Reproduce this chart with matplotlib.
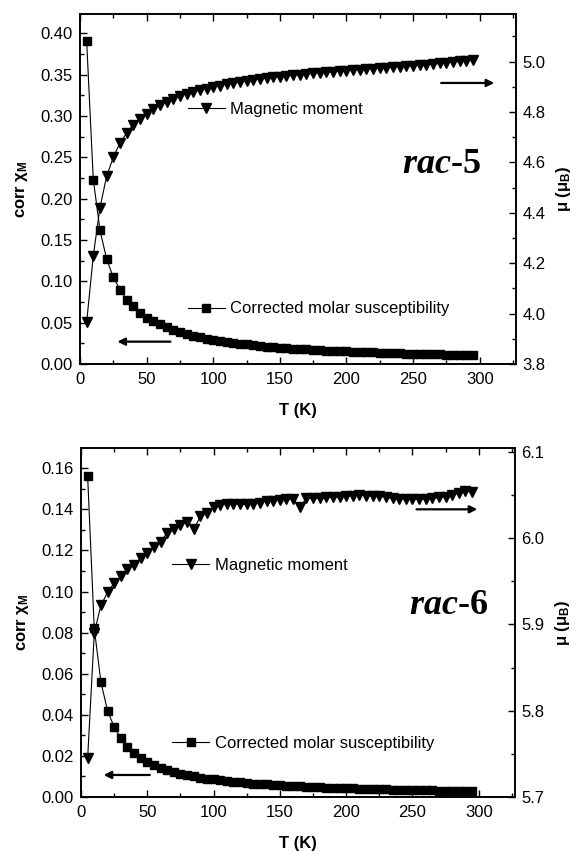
import matplotlib
matplotlib.use('Agg')
import matplotlib.pyplot as plt
from matplotlib.lines import Line2D
from matplotlib.ticker import MultipleLocator, FormatStrFormatter

plt.rcParams['font.family'] = ['Liberation Sans', 'DejaVu Sans']
plt.rcParams['mathtext.fontset'] = 'custom'
plt.rcParams['mathtext.rm'] = 'Liberation Sans'
plt.rcParams['mathtext.bf'] = 'Liberation Sans:bold'
plt.rcParams['mathtext.it'] = 'Liberation Serif:italic:bold'

# temperaturas (K), paso de 5 K
temps = [5, 10, 15, 20, 25, 30, 35, 40, 45, 50, 55, 60, 65, 70, 75, 80, 85, 90, 95, 100,
         105, 110, 115, 120, 125, 130, 135, 140, 145, 150, 155, 160, 165, 170, 175, 180,
         185, 190, 195, 200, 205, 210, 215, 220, 225, 230, 235, 240, 245, 250, 255, 260,
         265, 270, 275, 280, 285, 290, 295]

# rac-5
chi_rac5 = [0.391, 0.223, 0.162, 0.127, 0.105, 0.090, 0.078, 0.070, 0.062, 0.056,
            0.052, 0.048, 0.0445, 0.0415, 0.0388, 0.0364, 0.0343, 0.0325, 0.0308, 0.0293,
            0.0280, 0.0267, 0.0256, 0.0245, 0.0236, 0.0227, 0.0219, 0.0211, 0.0204, 0.0198,
            0.0192, 0.0186, 0.0181, 0.0176, 0.0171, 0.0167, 0.0163, 0.0159, 0.0155, 0.0151,
            0.0148, 0.0145, 0.0142, 0.0139, 0.0136, 0.0133, 0.0131, 0.0128, 0.0126, 0.0124,
            0.0122, 0.0120, 0.0118, 0.0116, 0.0114, 0.0112, 0.0110, 0.0109, 0.0107]
mu_rac5 = [3.965, 4.230, 4.420, 4.545, 4.620, 4.677, 4.716, 4.750, 4.773, 4.793,
           4.812, 4.828, 4.840, 4.851, 4.862, 4.872, 4.880, 4.887, 4.893, 4.899,
           4.905, 4.910, 4.915, 4.919, 4.923, 4.927, 4.931, 4.934, 4.937, 4.940,
           4.943, 4.946, 4.948, 4.951, 4.953, 4.955, 4.958, 4.960, 4.962, 4.964,
           4.966, 4.968, 4.970, 4.972, 4.974, 4.976, 4.978, 4.980, 4.982, 4.984,
           4.986, 4.988, 4.990, 4.993, 4.995, 4.998, 5.001, 5.004, 5.007]

# rac-6
chi_rac6 = [0.156, 0.082, 0.056, 0.042, 0.034, 0.0285, 0.0245, 0.0213, 0.0189, 0.0170,
            0.0155, 0.0142, 0.0131, 0.0121, 0.0113, 0.0106, 0.0100, 0.0094, 0.0089, 0.0085,
            0.0081, 0.0077, 0.0074, 0.0071, 0.0068, 0.0065, 0.0063, 0.0061, 0.0059, 0.0057,
            0.0055, 0.0053, 0.0051, 0.0050, 0.0048, 0.0047, 0.0046, 0.0045, 0.0044, 0.0043,
            0.0042, 0.0041, 0.0040, 0.0039, 0.0038, 0.0037, 0.0036, 0.0035, 0.0035, 0.0034,
            0.0033, 0.0033, 0.0032, 0.0031, 0.0031, 0.0030, 0.0030, 0.0029, 0.0029]
mu_rac6 = [5.745, 5.890, 5.922, 5.937, 5.948, 5.956, 5.964, 5.969, 5.977, 5.983,
           5.990, 5.996, 6.006, 6.011, 6.015, 6.019, 6.010, 6.025, 6.029, 6.036,
           6.038, 6.040, 6.040, 6.039, 6.039, 6.040, 6.041, 6.043, 6.043, 6.044,
           6.045, 6.045, 6.036, 6.046, 6.046, 6.046, 6.047, 6.047, 6.048, 6.049,
           6.049, 6.050, 6.049, 6.049, 6.049, 6.047, 6.046, 6.045, 6.045, 6.045,
           6.045, 6.045, 6.046, 6.047, 6.048, 6.050, 6.052, 6.055, 6.053]

FS = 12


def panel(ax, chi, mu, chi_lim, chi_major, mu_lim, mu_major, nombre, pos_nombre,
          pos_mag, pos_chi, flecha_izq, flecha_der):
    ax2 = ax.twinx()
    ax.plot(temps, chi, color='k', lw=0.8, marker='s', ms=5.5, zorder=3)
    ax2.plot(temps, mu, color='k', lw=0.8, marker='v', ms=6.5, zorder=3)

    ax.set_xlim(0, 327)
    ax.set_ylim(*chi_lim)
    ax2.set_ylim(*mu_lim)

    ax.xaxis.set_major_locator(MultipleLocator(50))
    ax.xaxis.set_minor_locator(MultipleLocator(25))
    ax.yaxis.set_major_locator(MultipleLocator(chi_major))
    ax.yaxis.set_minor_locator(MultipleLocator(chi_major / 2))
    ax.yaxis.set_major_formatter(FormatStrFormatter('%.2f'))
    ax2.yaxis.set_major_locator(MultipleLocator(mu_major))
    ax2.yaxis.set_minor_locator(MultipleLocator(mu_major / 2))
    ax2.yaxis.set_major_formatter(FormatStrFormatter('%.1f'))

    ax.tick_params(axis='x', which='both', direction='in', top=True, bottom=True,
                   labelsize=FS, pad=6)
    ax.tick_params(axis='y', which='both', direction='in', left=True, right=False,
                   labelsize=FS, pad=5)
    ax2.tick_params(axis='y', which='both', direction='in', left=False, right=True,
                    labelsize=FS, pad=5)
    for a in (ax, ax2):
        a.tick_params(which='major', length=5, width=1)
        a.tick_params(which='minor', length=3, width=1)
        for s in a.spines.values():
            s.set_linewidth(1.2)

    ax.set_xlabel('T (K)', fontsize=FS, fontweight='bold', labelpad=11)
    ax.set_ylabel(r'corr χ$_\mathbf{M}$', fontsize=FS, fontweight='bold', labelpad=8)
    ax2.set_ylabel(r'μ (μ$_\mathbf{B}$)', fontsize=FS, fontweight='bold', labelpad=6)

    ax.text(pos_nombre[0], pos_nombre[1], r'$\mathit{rac}$' + nombre,
            family='Liberation Serif', fontweight='bold', fontsize=26,
            ha='center', va='center')

    h_mag = Line2D([], [], color='k', lw=0.8, marker='v', ms=6.5)
    h_chi = Line2D([], [], color='k', lw=0.8, marker='s', ms=5.5)
    leg1 = ax.legend([h_mag], ['Magnetic moment'], loc='center left',
                     bbox_to_anchor=pos_mag, bbox_transform=ax.transData,
                     frameon=False, fontsize=FS, handlelength=2.2,
                     handletextpad=0.35, borderpad=0, borderaxespad=0, numpoints=1)
    ax.add_artist(leg1)
    ax.legend([h_chi], ['Corrected molar susceptibility'], loc='center left',
              bbox_to_anchor=pos_chi, bbox_transform=ax.transData,
              frameon=False, fontsize=FS, handlelength=2.2,
              handletextpad=0.35, borderpad=0, borderaxespad=0, numpoints=1)

    flecha = dict(arrowstyle='-|>', color='k', lw=1.6, mutation_scale=11)
    ax.annotate('', xy=flecha_izq[1], xytext=flecha_izq[0], arrowprops=flecha)
    ax.annotate('', xy=flecha_der[1], xytext=flecha_der[0], arrowprops=flecha)
    return ax2


fig = plt.figure(figsize=(5.77, 8.51), dpi=100)
ax_a = fig.add_axes([0.1386, 0.5723, 0.7551, 0.4113])
ax_b = fig.add_axes([0.1404, 0.0635, 0.7513, 0.4097])

panel(ax_a, chi_rac5, mu_rac5, (0, 0.4235), 0.05, (3.8, 5.189), 0.2, '-5',
      (271, 0.241), (81, 0.308), (81, 0.0666),
      ((70, 0.027), (26, 0.027)), ((269, 0.340), (313, 0.340)))
panel(ax_b, chi_rac6, mu_rac6, (0, 0.1697), 0.02, (5.7, 6.104), 0.1, '-6',
      (277, 0.0934), (69, 0.1126), (69, 0.0261),
      ((54, 0.0107), (15, 0.0107)), ((251, 0.140), (301, 0.140)))

fig.savefig('out.png', dpi=100)
